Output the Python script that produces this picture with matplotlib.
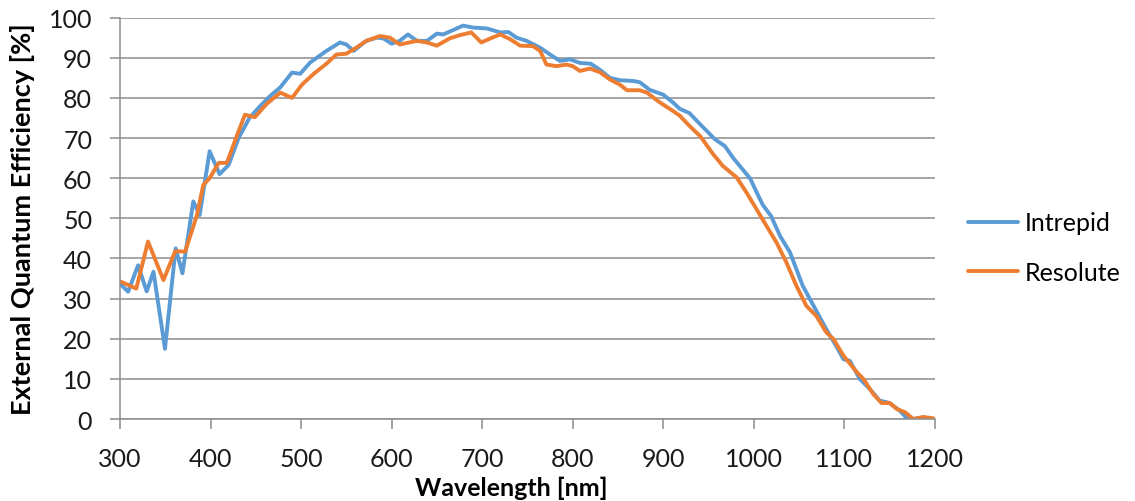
import matplotlib
matplotlib.use("Agg")
import matplotlib.pyplot as plt

# Intrepid (blue) — wavelength [nm], EQE [%]
intrepid_nm = [302, 309, 320, 329.5, 337, 349.7, 361.5, 369, 381, 388, 399, 410, 420, 431,
               443, 455, 466, 477, 490, 499, 510, 528, 543, 550, 558, 572, 584, 591, 600,
               609, 618, 628, 639, 650, 657, 664, 679, 690, 705, 720, 729, 738, 749, 764,
               775, 786, 797, 808, 820, 830, 841, 852, 867, 874, 885, 900, 911, 918, 929,
               940, 957, 968, 977, 996, 1005, 1010, 1019, 1029, 1040, 1054, 1067, 1080,
               1091, 1099, 1106, 1117, 1128, 1139, 1150, 1161, 1170, 1176, 1187, 1195]
intrepid_eqe = [33.3, 31.7, 38.3, 31.8, 36.7, 17.5, 42.5, 36.3, 54.2, 50.8, 66.7, 61, 63.3, 70,
                75, 78, 80.5, 82.6, 86.3, 86, 88.8, 91.7, 93.8, 93.3, 91.7, 94.2, 95, 94.8, 93.5,
                94.2, 95.8, 94.2, 94.2, 96, 95.8, 96.5, 98, 97.5, 97.3, 96.3, 96.4, 95, 94.2, 92.5,
                90.8, 89.2, 89.6, 88.7, 88.5, 87, 85, 84.4, 84.2, 83.9, 82, 80.8, 78.8, 77.3, 76.2,
                73.6, 69.7, 68, 65.1, 59.9, 55.6, 53.3, 50.6, 45.6, 41.5, 33.2, 27.8, 22.4,
                18.2, 14.9, 14.5, 10, 7.5, 4.6, 4, 2.1, 0, 0, 0.4, 0]

# Resolute (orange)
resolute_nm = [300, 318, 331, 348, 361, 372, 385, 392, 399, 409, 418, 429, 438, 449, 462, 477,
               490, 501, 514, 528, 539, 550, 561, 572, 587, 598, 609, 628, 639, 650, 664, 675,
               688, 699, 709, 720, 731, 742, 756, 764, 771, 782, 793, 800, 808, 819, 830, 841,
               852, 860, 874, 882, 896, 911, 918, 929, 941, 955, 966, 981, 992, 1009, 1025,
               1036, 1047, 1058, 1069, 1080, 1088, 1099, 1114, 1121, 1132, 1141, 1150, 1158,
               1167, 1176, 1187, 1198]
resolute_eqe = [34.3, 32.5, 44.2, 34.6, 41.8, 41.7, 50.8, 58.3, 60, 63.8, 63.8, 70.5, 75.8, 75.2,
                78.5, 81.3, 80, 83.3, 86, 88.5, 90.8, 91, 92.5, 94.2, 95.4, 95, 93.3, 94.2, 93.8,
                93, 94.8, 95.6, 96.3, 93.8, 94.8, 95.8, 94.6, 93, 92.9, 91.7, 88.3, 87.9, 88.3,
                87.9, 86.7, 87.3, 86.4, 84.6, 83.3, 81.9, 81.9, 81.3, 78.9, 76.7, 75.6, 73, 70.4,
                66, 63, 60.2, 56.4, 50, 44, 39, 33.2, 28.2, 25.7, 21.6, 19.9, 15.8, 11.6, 10,
                6.2, 4, 4, 2.5, 1.7, 0, 0.5, 0.2]

x_ticks = list(range(300, 1201, 100))
y_ticks = list(range(0, 101, 10))

plt.rcParams['font.family'] = ['Lato', 'DejaVu Sans']

fig = plt.figure(figsize=(11.35, 5.02), dpi=100)
ax = fig.add_axes([0.1057, 0.1633, 0.718, 0.7997])

grid_col = '#8c8c8c'
ax.plot(intrepid_nm, intrepid_eqe, color='#5B9BD5', lw=2.8, solid_joinstyle='round',
        solid_capstyle='round', label='Intrepid')
ax.plot(resolute_nm, resolute_eqe, color='#ED7D31', lw=2.8, solid_joinstyle='round',
        solid_capstyle='round', label='Resolute')

ax.set_xlim(300, 1200)
ax.set_ylim(0, 100)
ax.set_xticks(x_ticks)
ax.set_yticks(y_ticks)
ax.yaxis.grid(True, color=grid_col, lw=1.1)
ax.set_axisbelow(True)
for s in ['top', 'right']:
    ax.spines[s].set_visible(False)
for s in ['left', 'bottom']:
    ax.spines[s].set_color(grid_col)
    ax.spines[s].set_linewidth(1.1)
ax.tick_params(axis='both', direction='out', length=7, width=1.1, color=grid_col,
               labelsize=18, labelcolor='#1a1a1a', pad=13)

ax.set_xlabel('Wavelength [nm]', fontsize=18, fontweight='bold')
ax.xaxis.set_label_coords(0.48, -0.14)
ax.set_ylabel('External Quantum Efficiency [%]', fontsize=19.5, fontweight='bold', labelpad=10)

fig.legend(loc='center left', bbox_to_anchor=(0.853, 0.505), frameon=False,
           fontsize=18, handlelength=2.0, handletextpad=0.25, labelspacing=1.05,
           borderaxespad=0, borderpad=0)

plt.savefig('out.png', dpi=100)
plt.close()
